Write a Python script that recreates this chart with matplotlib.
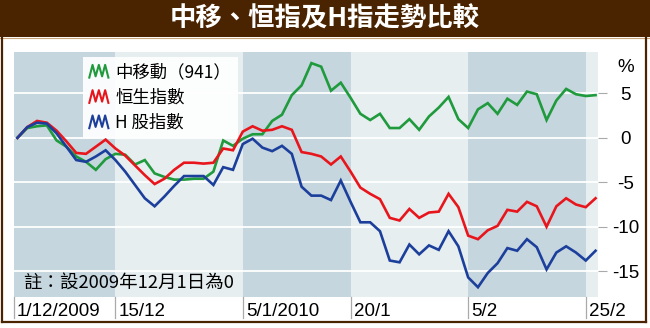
import numpy as np
import matplotlib
matplotlib.use("Agg")
import matplotlib.pyplot as plt
from matplotlib.patches import Rectangle
from matplotlib.lines import Line2D
from matplotlib.legend_handler import HandlerBase

# ---------------- data ----------------
title = "中移、恒指及H指走勢比較"
series_names = ["中移動（941）", "恒生指數", "H 股指數"]
note = "註：設2009年12月1日為0"

china_mobile = [0, 1.1, 1.3, 1.4, -0.3, -1.0, -2.1, -2.7, -3.6, -2.4,
                -1.8, -1.9, -3.0, -2.5, -4.0, -4.4, -4.7, -4.7, -4.6, -4.6,
                -3.8, -0.3, -0.9, -0.1, 0.4, 0.4, 1.9, 2.6, 4.8, 5.9,
                8.4, 8.0, 5.3, 6.2, 4.5, 2.7, 2.0, 2.7, 1.1, 1.1,
                2.1, 0.9, 2.4, 3.4, 4.6, 2.1, 1.1, 3.2, 3.9, 2.7,
                4.4, 3.7, 5.2, 4.9, 2.0, 4.2, 5.5, 4.9, 4.7, 4.8]
hsi = [0, 1.2, 1.9, 1.7, 0.8, -0.4, -1.7, -1.8, -1.0, -0.2,
       -1.2, -2.0, -3.1, -4.2, -5.2, -4.6, -3.6, -2.8, -2.8, -2.9,
       -2.8, -1.2, -1.4, 0.7, 1.3, 0.8, 0.9, 1.3, 0.9, -1.6,
       -1.8, -2.1, -3.0, -2.1, -3.8, -5.6, -6.3, -6.9, -9.0, -9.3,
       -8.0, -9.0, -8.4, -8.3, -6.3, -7.8, -11.0, -11.4, -10.4, -9.9,
       -8.1, -8.3, -7.2, -7.7, -10.0, -7.7, -6.8, -7.5, -7.8, -6.8]
hshares = [0, 1.2, 1.7, 1.6, 0.5, -1.0, -2.5, -2.7, -2.1, -1.4,
           -2.5, -3.8, -5.3, -6.8, -7.7, -6.6, -5.4, -4.3, -4.3, -4.3,
           -5.3, -3.3, -3.6, -0.7, -0.1, -1.1, -1.5, -0.9, -1.8, -5.5,
           -6.5, -6.5, -7.0, -4.8, -7.2, -9.5, -9.5, -10.5, -13.8, -14.0,
           -12.0, -13.1, -12.1, -12.6, -10.5, -12.2, -15.7, -16.8, -15.2, -14.1,
           -12.4, -12.7, -11.4, -12.3, -14.8, -12.9, -12.2, -12.9, -13.8, -12.7]
tick_idx = [0, 10, 23, 34, 46, 58]
tick_labels = ["1/12/2009", "15/12", "5/1/2010", "20/1", "5/2", "25/2"]
yticks = [5, 0, -5, -10, -15]

# ---------------- style ----------------
W, H = 650, 328
BROWN = "#4a2300"
DARK_BAND = "#c6d6df"
LIGHT_BAND = "#e6eeef"
colors = ["#1f9a3c", "#e8161c", "#1c3f9c"]
CJK = ["Noto Sans CJK TC", "DejaVu Sans"]
LAT = ["Liberation Sans", "DejaVu Sans"]

def fx(p):
    return p / W

def fy(p):
    return 1 - p / H

fig = plt.figure(figsize=(W / 100, H / 100), dpi=100)
fig.patch.set_facecolor("white")

# title bar
fig.patches.append(Rectangle((0, fy(37)), 1, 37 / H, transform=fig.transFigure,
                             facecolor=BROWN, edgecolor="none", zorder=0))
fig.add_artist(Line2D([0, 1], [fy(38.2), fy(38.2)], color="#c8a57a", lw=0.8))
fig.text(0.5, fy(19), title, color="white", fontsize=19, fontweight="bold",
         family=CJK, ha="center", va="center")
# frame
fig.add_artist(Line2D([fx(1.5), fx(1.5)], [fy(37), fy(322)], color=BROWN, lw=1.6))
fig.add_artist(Line2D([fx(646), fx(646)], [fy(37), fy(322)], color=BROWN, lw=1.6))
fig.add_artist(Line2D([fx(1.5), fx(646)], [fy(322), fy(322)], color=BROWN, lw=1.6))

# axes
ax = fig.add_axes([fx(14), fy(297), (598 - 14) / W, (297 - 52) / H])
n = len(china_mobile)
x = np.arange(n)
xlim = (-0.35, n - 1 + 0.25)
ax.set_xlim(*xlim)
ax.set_ylim(-17.9, 9.65)
for s in ax.spines.values():
    s.set_visible(False)

# alternating bands
edges = [xlim[0]] + tick_idx[1:] + [xlim[1]]
for k in range(len(edges) - 1):
    ax.axvspan(edges[k], edges[k + 1], color=DARK_BAND if k % 2 == 0 else LIGHT_BAND,
               lw=0, zorder=0)
for yv in yticks:
    ax.axhline(yv, color="white", lw=1.3, zorder=1)

handles = []
for vals, c, name in zip([china_mobile, hsi, hshares], colors, series_names):
    ln, = ax.plot(x, vals, color=c, lw=1.9, zorder=3, label=name, solid_joinstyle="miter")
    handles.append(ln)

# y axis on right
ax.yaxis.tick_right()
ax.set_yticks(yticks)
ax.set_yticklabels([str(v) for v in yticks], family=LAT, fontsize=13.5, ha="center")
ax.tick_params(axis="y", length=6.5, width=0.8, color="#aaaaaa", pad=13.5)
fig.text(fx(626), fy(67), "%", family=LAT, fontsize=13.5, ha="center", va="center")

# x ticks: separators + labels
ax.set_xticks([])
tick_pos = [xlim[0]] + tick_idx[1:]
for p, lab in zip(tick_pos, tick_labels):
    ax.plot([p, p], [0, -21 / 245], transform=ax.get_xaxis_transform(),
            color="#aaaaaa", lw=0.9, clip_on=False, zorder=4)
    ax.annotate(lab, xy=(p, 0), xycoords=("data", "axes fraction"),
                xytext=(3, -15), textcoords="offset pixels", ha="left", va="center",
                family=LAT, fontsize=13.5)

# note
fig.text(fx(23), fy(284), note, family=CJK, fontsize=13.3, ha="left", va="center")

# legend with zigzag icons
class ZigZag(HandlerBase):
    def create_artists(self, legend, orig_handle, xdescent, ydescent,
                       width, height, fontsize, trans):
        xs = np.array([0, 0.17, 0.33, 0.5, 0.67, 0.83, 1.0]) * width - xdescent
        ys = np.array([0.0, 1.0, 0.1, 1.0, 0.1, 1.0, 0.0]) * height - ydescent
        ln = Line2D(xs, ys, color=orig_handle.get_color(), lw=1.5, transform=trans)
        return [ln]

leg = ax.legend(handles, series_names, handler_map={Line2D: ZigZag()},
                loc="upper left", bbox_to_anchor=(fx(82.7), fy(56.7)),
                bbox_transform=fig.transFigure, borderaxespad=0, frameon=True,
                fancybox=False, facecolor="white", edgecolor="none", framealpha=0.92,
                prop={"family": CJK, "size": 12.5}, handlelength=1.1, handleheight=0.75,
                handletextpad=0.4, labelspacing=0.42, borderpad=0.38)
leg.set_zorder(5)

fig.savefig("out.png", dpi=100, facecolor="white")
